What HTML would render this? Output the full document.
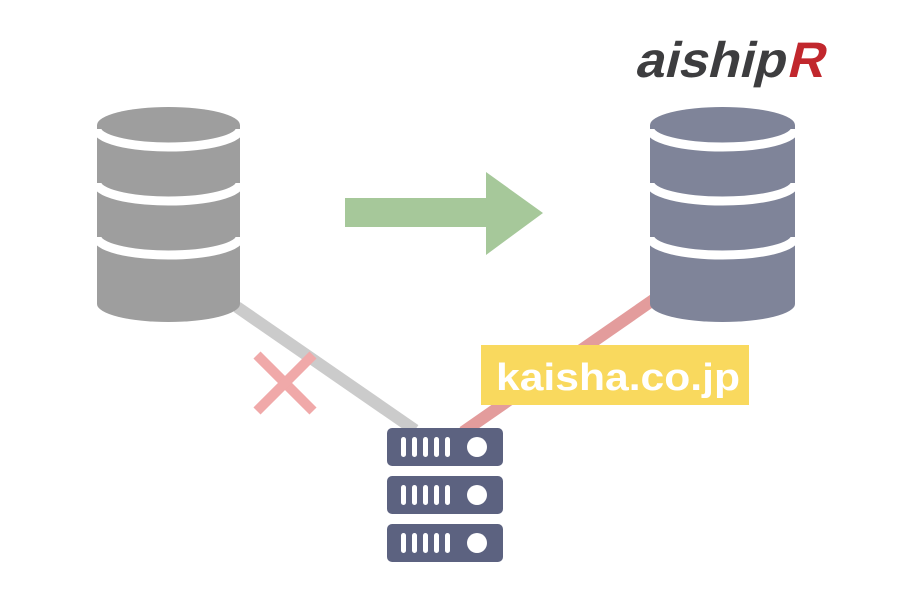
<!DOCTYPE html>
<html><head><meta charset="utf-8"><style>html,body{margin:0;padding:0;background:#fff}svg{display:block}</style></head><body>
<svg width="900" height="600" viewBox="0 0 900 600" xmlns="http://www.w3.org/2000/svg">
<g transform="translate(0,77) skewX(-14)">
<text x="634" y="0" font-family="Liberation Sans, sans-serif" font-size="50" font-weight="bold" fill="#3d3d3f" textLength="150" lengthAdjust="spacingAndGlyphs">aiship</text>
<text x="786" y="0" font-family="Liberation Sans, sans-serif" font-size="50" font-weight="bold" fill="#c1272d" textLength="37" lengthAdjust="spacingAndGlyphs">R</text>
</g>
<line x1="237" y1="307" x2="415" y2="430" stroke="#cbcbcb" stroke-width="12"/>
<line x1="656" y1="298" x2="463" y2="432" stroke="#e39c9c" stroke-width="12"/>
<g stroke="#f0a9a9" stroke-width="10"><line x1="257" y1="355" x2="313" y2="411"/><line x1="313" y1="355" x2="257" y2="411"/></g>
<path d="M97,125 A71.5,18 0 0 1 240,125 V304 A71.5,18 0 0 1 97,304 Z" fill="#9e9e9e"/>
<g fill="none" stroke="#fff" stroke-width="9">
<path d="M97,129 A71.5,18 0 0 0 240,129"/><path d="M97,183 A71.5,18 0 0 0 240,183"/><path d="M97,237 A71.5,18 0 0 0 240,237"/>
</g>
<path d="M650,125 A72.5,18 0 0 1 795,125 V304 A72.5,18 0 0 1 650,304 Z" fill="#7f8499"/>
<g fill="none" stroke="#fff" stroke-width="9">
<path d="M650,129 A72.5,18 0 0 0 795,129"/><path d="M650,183 A72.5,18 0 0 0 795,183"/><path d="M650,237 A72.5,18 0 0 0 795,237"/>
</g>
<path d="M345,198 H486 V172 L543,213 L486,255 V227 H345 Z" fill="#a6c89a"/>
<rect x="481" y="345" width="268" height="60" fill="#f9d95e"/>
<text x="496" y="390" font-family="Liberation Sans, sans-serif" font-size="38" font-weight="bold" fill="#fff" textLength="244" lengthAdjust="spacingAndGlyphs">kaisha.co.jp</text>
<g fill="#5c6280">
<rect x="387" y="428" width="116" height="38" rx="5"/>
<rect x="387" y="476" width="116" height="38" rx="5"/>
<rect x="387" y="524" width="116" height="38" rx="5"/>
</g>
<g fill="#fff">
<g id="s"><rect x="401" y="437" width="5" height="20" rx="2.5"/><rect x="412" y="437" width="5" height="20" rx="2.5"/><rect x="423" y="437" width="5" height="20" rx="2.5"/><rect x="434" y="437" width="5" height="20" rx="2.5"/><rect x="445" y="437" width="5" height="20" rx="2.5"/><circle cx="477" cy="447" r="10"/></g>
<use href="#s" y="48"/><use href="#s" y="96"/>
</g>
</svg>
</body></html>
